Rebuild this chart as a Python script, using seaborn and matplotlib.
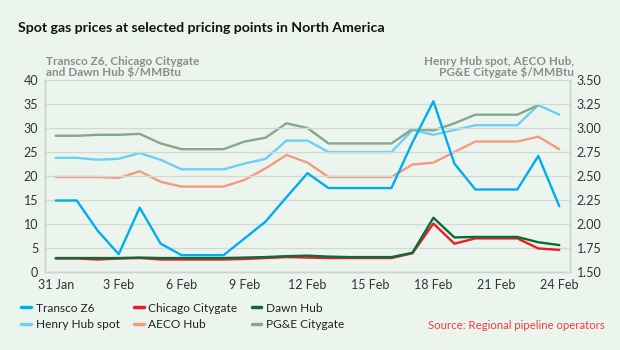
import numpy as np
import pandas as pd
import matplotlib
matplotlib.use("Agg")
import matplotlib.pyplot as plt
import matplotlib.dates as mdates
import seaborn as sns

sns.set_theme(style="white")
plt.rcParams["font.family"] = ["Lato", "DejaVu Sans"]

# daily prices, 31 Jan - 24 Feb 2015
dates = pd.date_range("2015-01-31", "2015-02-24", freq="D")

# left axis ($/MMBtu)
transco_z6 = [14.9, 14.9, 8.6, 3.7, 13.4, 5.9, 3.5, 3.5, 3.5, 7.0, 10.5, 15.6, 20.6,
              17.5, 17.5, 17.5, 17.5, 27.0, 35.6, 22.6, 17.2, 17.2, 17.2, 24.2, 13.7]
chicago = [2.8, 2.8, 2.6, 2.8, 2.9, 2.6, 2.6, 2.6, 2.6, 2.7, 2.9, 3.1, 3.0,
           2.9, 2.9, 2.9, 2.9, 3.9, 10.1, 5.9, 7.0, 7.0, 7.0, 4.9, 4.6]
dawn = [2.9, 2.9, 2.9, 2.9, 3.0, 2.9, 2.9, 2.9, 2.9, 3.0, 3.1, 3.3, 3.4,
        3.2, 3.1, 3.1, 3.1, 4.0, 11.3, 7.2, 7.3, 7.3, 7.3, 6.2, 5.6]

# right axis ($/MMBtu)
henry_hub = [2.69, 2.69, 2.67, 2.68, 2.74, 2.67, 2.57, 2.57, 2.57, 2.63, 2.68, 2.87, 2.87,
             2.75, 2.75, 2.75, 2.75, 2.98, 2.93, 2.98, 3.03, 3.03, 3.03, 3.24, 3.14]
aeco = [2.49, 2.49, 2.49, 2.48, 2.55, 2.44, 2.39, 2.39, 2.39, 2.46, 2.58, 2.72, 2.64,
        2.49, 2.49, 2.49, 2.49, 2.62, 2.64, 2.75, 2.86, 2.86, 2.86, 2.91, 2.78]
pge = [2.92, 2.92, 2.93, 2.93, 2.94, 2.84, 2.78, 2.78, 2.78, 2.86, 2.90, 3.05, 3.00,
       2.84, 2.84, 2.84, 2.84, 2.99, 2.975, 3.05, 3.14, 3.14, 3.14, 3.24, np.nan]

df = pd.DataFrame({"date": dates, "Transco Z6": transco_z6, "Chicago Citygate": chicago,
                   "Dawn Hub": dawn, "Henry Hub spot": henry_hub, "AECO Hub": aeco,
                   "PG&E Citygate": pge})

colors = {"Transco Z6": "#00adef", "Chicago Citygate": "#ed1c24", "Dawn Hub": "#0b6b3a",
          "Henry Hub spot": "#6ccff6", "AECO Hub": "#f59a80", "PG&E Citygate": "#86a788"}

bg = "#ebf5ee"
fig = plt.figure(figsize=(6.2, 3.5), dpi=100, facecolor=bg)
ax = fig.add_axes([0.073, 0.223, 0.846, 0.548], facecolor=bg)
ax2 = ax.twinx()

for name in ["Henry Hub spot", "AECO Hub", "PG&E Citygate"]:
    sns.lineplot(data=df, x="date", y=name, ax=ax2, color=colors[name], lw=1.7, label=name, legend=False)
for name in ["Chicago Citygate", "Dawn Hub", "Transco Z6"]:
    sns.lineplot(data=df, x="date", y=name, ax=ax, color=colors[name], lw=1.7, label=name, legend=False)

# left axis on top of the right one so its lines are in front
ax.set_zorder(2)
ax.patch.set_visible(False)

ax.set_ylim(0, 40)
ax.set_yticks(np.arange(0, 41, 5))
ax2.set_ylim(1.5, 3.5)
ax2.set_yticks(np.arange(1.5, 3.51, 0.25))
ax2.set_yticklabels([f"{v:.2f}" for v in np.arange(1.5, 3.51, 0.25)])

ax.set_xlim(dates[0] - pd.Timedelta(hours=12), dates[-1] + pd.Timedelta(hours=12))
ax.set_xticks(dates[::3])
ax.xaxis.set_major_formatter(mdates.DateFormatter("%-d %b"))

ax.grid(axis="y", color="#d2d9d4", lw=1)
ax.set_xlabel("")
ax.set_ylabel("")
ax2.set_ylabel("")
for a in (ax, ax2):
    a.tick_params(length=0, labelsize=9, labelcolor="#333333", pad=5)
    a.spines["top"].set_visible(False)
    for s in ("left", "right", "bottom"):
        a.spines[s].set_color("#cdd4cf")
        a.spines[s].set_linewidth(1)

fig.text(0.029, 0.921, "Spot gas prices at selected pricing points in North America",
         fontsize=10.2, fontweight="bold", color="#111111", va="center")
fig.text(0.074, 0.808, "Transco Z6, Chicago Citygate\nand Dawn Hub $/MMBtu",
         fontsize=8.5, fontweight="bold", color="#8c8c8c", va="center", linespacing=0.95)
fig.text(0.926, 0.808, "Henry Hub spot, AECO Hub,\nPG&E Citygate $/MMBtu",
         fontsize=8.5, fontweight="bold", color="#8c8c8c", va="center", ha="right",
         linespacing=0.95, multialignment="right")
fig.text(0.975, 0.07, "Source: Regional pipeline operators", fontsize=8.2,
         color="#f03c46", ha="right", va="center")

order = ["Transco Z6", "Henry Hub spot", "Chicago Citygate", "AECO Hub", "Dawn Hub", "PG&E Citygate"]
handles = [plt.Line2D([], [], color=colors[n], lw=2.5) for n in order]
fig.legend(handles, order, loc="lower left", bbox_to_anchor=(0.017, 0.025), ncol=3,
           frameon=False, fontsize=8.6, handlelength=0.8, handletextpad=0.4,
           columnspacing=1.2, labelspacing=0.5, labelcolor="#222222")

fig.savefig("out.png", dpi=100, facecolor=bg)
